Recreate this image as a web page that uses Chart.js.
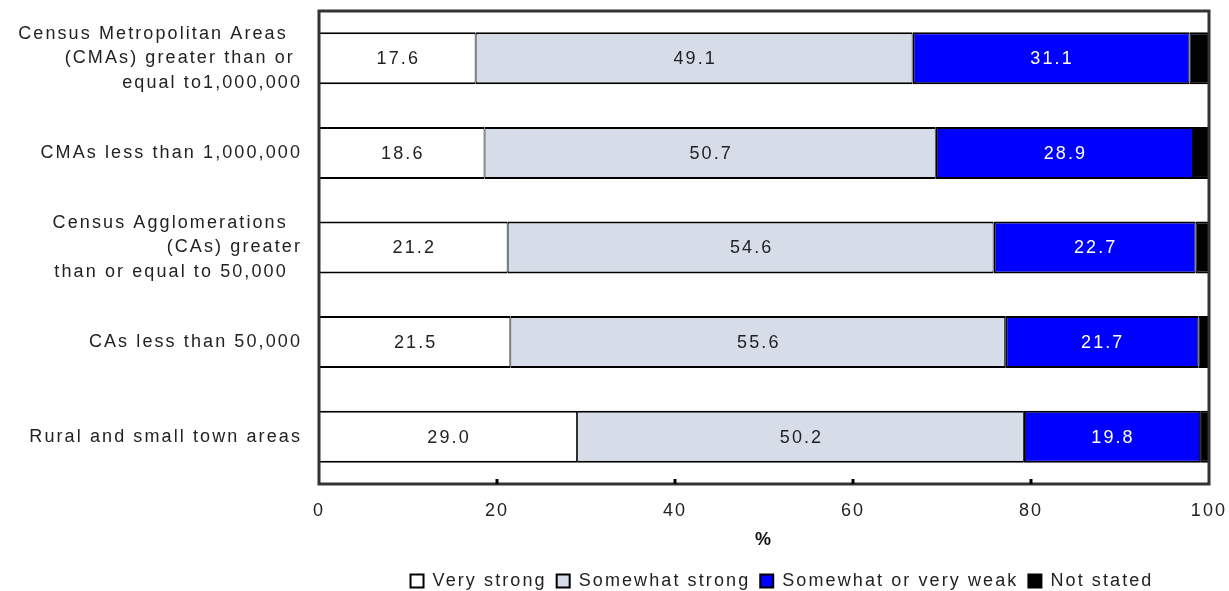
<!DOCTYPE html>
<html>
<head>
<meta charset="utf-8">
<script src="https://cdn.jsdelivr.net/npm/chart.js@4.4.1/dist/chart.umd.min.js"></script>
<style>
  html, body { margin: 0; padding: 0; background: #fff; overflow: hidden; }
  canvas { display: block; }
</style>
</head>
<body>
<canvas id="chart" width="1229" height="591"></canvas>
<script>
// Sense of belonging to local community, by size of area of residence (%)
const categories = [
  ['Census Metropolitan Areas  ', '(CMAs) greater than or ', 'equal to1,000,000'],
  'CMAs less than 1,000,000',
  ['Census Agglomerations  ', '(CAs) greater', 'than or equal to 50,000  '],
  'CAs less than 50,000',
  'Rural and small town areas'
];
const seriesNames = ['Very strong', 'Somewhat strong', 'Somewhat or very weak', 'Not stated'];
const veryStrong     = [17.6, 18.6, 21.2, 21.5, 29.0];
const somewhatStrong = [49.1, 50.7, 54.6, 55.6, 50.2];
const weak           = [31.1, 28.9, 22.7, 21.7, 19.8];
const notStated      = [2.2, 1.8, 1.5, 1.2, 1.0];
const xTicks = [0, 20, 40, 60, 80, 100];

const FONT_FAMILY = '"Liberation Sans", Arial, sans-serif';
const LETTER_SPACING = '2.1px';
const TEXT = '#222';

// wide-set lettering for every label on the canvas
const spacing = {
  id: 'spacing',
  beforeUpdate(chart) { chart.ctx.letterSpacing = LETTER_SPACING; },
  beforeDraw(chart) { chart.ctx.letterSpacing = LETTER_SPACING; }
};

// plot frame and short inward tick marks along the bottom
const frame = {
  id: 'frame',
  afterDatasetsDraw(chart) {
    const { ctx, chartArea: a } = chart;
    const xs = chart.scales.x;
    ctx.save();
    ctx.strokeStyle = '#333';
    ctx.lineWidth = 3;
    ctx.strokeRect(a.left, a.top, a.right - a.left, a.bottom - a.top);
    ctx.strokeStyle = '#000';
    xTicks.slice(1, -1).forEach(v => {
      const px = xs.getPixelForValue(v);
      ctx.beginPath();
      ctx.moveTo(px, a.bottom);
      ctx.lineTo(px, a.bottom - 5);
      ctx.stroke();
    });
    ctx.restore();
  }
};

// value labels inside the first three segments
const valueLabels = {
  id: 'valueLabels',
  afterDraw(chart) {
    const ctx = chart.ctx;
    ctx.save();
    ctx.letterSpacing = LETTER_SPACING;
    ctx.font = '18px ' + FONT_FAMILY;
    ctx.textAlign = 'center';
    ctx.textBaseline = 'middle';
    [0, 1, 2].forEach(di => {
      const ds = chart.data.datasets[di];
      chart.getDatasetMeta(di).data.forEach((bar, i) => {
        const { x, y, base } = bar.getProps(['x', 'y', 'base'], true);
        ctx.fillStyle = di === 2 ? '#fff' : TEXT;
        ctx.fillText(ds.data[i].toFixed(1), (x + base) / 2 + 1, y + 1);
      });
    });
    ctx.restore();
  }
};

// legend row sits a little lower and to the right of the plot centre
const legendPlace = {
  id: 'legendPlace',
  afterLayout(chart) {
    const lg = chart.legend;
    if (!lg) return;
    lg.left += 18; lg.right += 18;
    lg.top += 9; lg.bottom += 9;
  }
};

const colors = ['#ffffff', '#d6dde8', '#0000ff', '#000000'];
const series = [veryStrong, somewhatStrong, weak, notStated];

new Chart(document.getElementById('chart'), {
  type: 'bar',
  data: {
    labels: categories,
    datasets: series.map((d, i) => ({
      label: seriesNames[i],
      data: d,
      backgroundColor: colors[i],
      borderColor: '#000',
      borderWidth: { top: 2, bottom: 2, left: i === 2 ? 2 : 1, right: 1 },
      borderSkipped: false,
      categoryPercentage: 1,
      barPercentage: 0.55
    }))
  },
  options: {
    indexAxis: 'y',
    responsive: false,
    animation: false,
    layout: { padding: { left: 0, right: 20, top: 11, bottom: 0 } },
    scales: {
      x: {
        stacked: true,
        min: 0,
        max: 100,
        afterBuildTicks: s => { s.ticks = xTicks.map(v => ({ value: v })); },
        afterFit: s => { s.height = 69; s.paddingLeft = 0; s.paddingRight = 0; },
        grid: { display: false, drawTicks: false },
        border: { display: false },
        ticks: {
          padding: 16,
          color: TEXT,
          font: { family: FONT_FAMILY, size: 18 }
        },
        title: {
          display: true,
          text: '%',
          color: '#111',
          font: { family: FONT_FAMILY, size: 18, weight: 'bold' },
          padding: { top: 0, bottom: 2 }
        }
      },
      y: {
        stacked: true,
        afterFit: s => { s.width = 319; s.paddingTop = 0; s.paddingBottom = 0; },
        grid: { display: false, drawTicks: false },
        border: { display: false },
        ticks: {
          padding: 17,
          color: TEXT,
          font: { family: FONT_FAMILY, size: 18, lineHeight: '24.5px' }
        }
      }
    },
    plugins: {
      tooltip: { enabled: false },
      legend: {
        position: 'bottom',
        fullSize: false,
        labels: {
          boxWidth: 13,
          boxHeight: 13,
          padding: 10,
          color: TEXT,
          font: { family: FONT_FAMILY, size: 18 },
          generateLabels: chart =>
            Chart.defaults.plugins.legend.labels.generateLabels(chart)
              .map(l => Object.assign(l, { lineWidth: 2, strokeStyle: '#000' }))
        }
      }
    }
  },
  plugins: [spacing, frame, valueLabels, legendPlace]
});
</script>
</body>
</html>
